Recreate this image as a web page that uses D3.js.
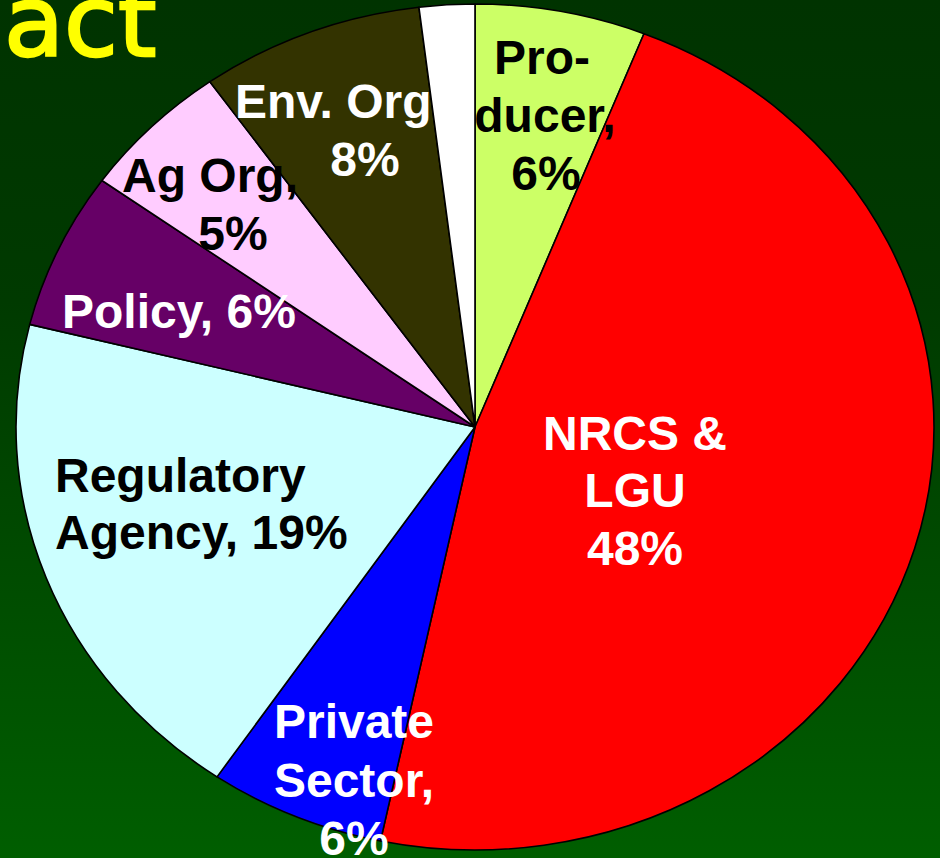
<!DOCTYPE html>
<html>
<head>
<meta charset="utf-8">
<script src="https://cdn.jsdelivr.net/npm/d3@7"></script>
<style>
  html, body { margin: 0; padding: 0; background: #003300; overflow: hidden; }
  svg { display: block; }
</style>
</head>
<body>
<svg id="chart" width="940" height="858"></svg>
<script>
// ---- data ----
const categories = ["Producer", "NRCS & LGU", "Private Sector", "Regulatory Agency", "Policy", "Ag Org", "Env. Org", "Other"];
const values = [6.0, 47.3, 6.2, 19.4, 6.0, 5.3, 7.85, 1.95];
const labelLines = [
  ["Pro-", "ducer,", "6%"],
  ["NRCS &", "LGU", "48%"],
  ["Private", "Sector,", "6%"],
  ["Regulatory", "Agency, 19%"],
  ["Policy, 6%"],
  ["Ag Org,", "5%"],
  ["Env. Org", "8%"],
  []
];
const titleFragment = "act";

// ---- styles / layout ----
const colors = ["#CCFF66", "#FF0000", "#0000FF", "#CCFFFF", "#660066", "#FFCCFF", "#333300", "#FFFFFF"];
const textColors = ["#000", "#fff", "#fff", "#000", "#fff", "#000", "#fff", "#000"];
// per-line anchor positions [x, y, anchor]
const labelLayout = [
  [[542, 74, "middle"], [545, 132, "middle"], [546, 190, "middle"]],
  [[635, 450, "middle"], [635, 507, "middle"], [635, 565, "middle"]],
  [[354, 738, "middle"], [354, 797, "middle"], [354, 855, "middle"]],
  [[55, 492, "start"], [55, 549, "start"]],
  [[62, 328, "start"]],
  [[122, 192, "start"], [233, 250, "middle"]],
  [[235, 118, "start"], [365, 176, "middle"]],
  []
];

const W = 940, H = 858;
const cx = 475, cy = 427, rx = 459, ry = 423;

const svg = d3.select("#chart");
const defs = svg.append("defs");
const grad = defs.append("linearGradient").attr("id", "bg").attr("x1", 0).attr("y1", 0).attr("x2", 0).attr("y2", 1);
grad.append("stop").attr("offset", "0%").attr("stop-color", "#003300");
grad.append("stop").attr("offset", "35%").attr("stop-color", "#003a00");
grad.append("stop").attr("offset", "100%").attr("stop-color", "#005e00");
svg.append("rect").attr("width", W).attr("height", H).attr("fill", "url(#bg)");

const pie = d3.pie().sort(null).value(d => d);
const arcs = pie(values);
const arc = d3.arc().innerRadius(0).outerRadius(ry);

const g = svg.append("g").attr("transform", `translate(${cx},${cy}) scale(${rx / ry},1)`);
g.selectAll("path")
  .data(arcs)
  .enter().append("path")
  .attr("d", arc)
  .attr("fill", (d, i) => colors[i])
  .attr("stroke", "#000")
  .attr("stroke-width", 1.6)
  .attr("stroke-linejoin", "round")
  .attr("vector-effect", "non-scaling-stroke");

// labels
const lg = svg.append("g")
  .attr("font-family", "'Liberation Sans', Arial, sans-serif")
  .attr("font-weight", "bold")
  .attr("font-size", 48);
labelLines.forEach((lines, i) => {
  lines.forEach((t, j) => {
    const p = labelLayout[i][j];
    lg.append("text")
      .attr("x", p[0]).attr("y", p[1])
      .attr("text-anchor", p[2])
      .attr("fill", textColors[i])
      .text(t);
  });
});

// title fragment
svg.append("text")
  .attr("x", 4).attr("y", 56)
  .attr("font-family", "'DejaVu Sans', sans-serif")
  .attr("font-size", 98)
  .attr("fill", "#FFFF00")
  .attr("stroke", "#FFFF00")
  .attr("stroke-width", 2.5)
  .text(titleFragment);
</script>
</body>
</html>
